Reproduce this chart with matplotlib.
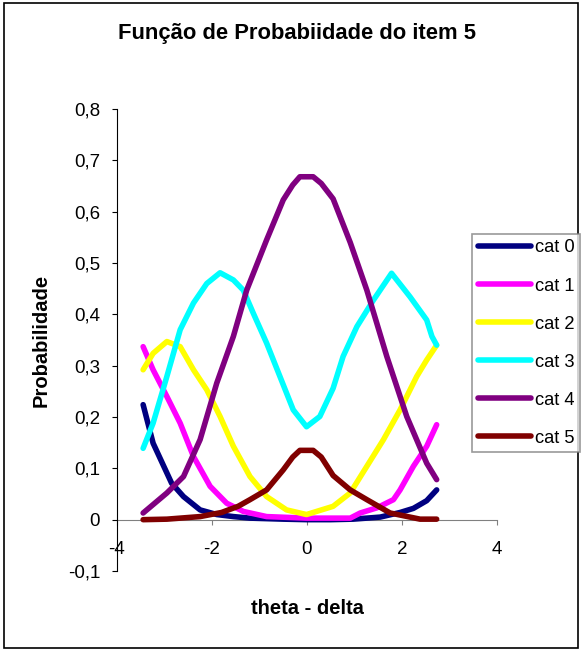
import matplotlib
matplotlib.use('Agg')
import matplotlib.pyplot as plt
from matplotlib.patches import Rectangle

plt.rcParams['font.family'] = ['Liberation Sans', 'DejaVu Sans']

# curvas (theta - delta, probabilidade)
x_cat0 = [-3.45, -3.24, -2.95, -2.85, -2.60, -2.25, -1.90, -1.55, -1.20, -0.5, 0.0, 0.5, 0.97, 1.54, 1.96, 2.24, 2.52, 2.73]
y_cat0 = [0.224, 0.149, 0.091, 0.071, 0.045, 0.019, 0.010, 0.006, 0.003, 0.001, 0.0, 0.0, 0.001, 0.005, 0.014, 0.022, 0.037, 0.058]

x_cat1 = [-3.45, -3.24, -2.95, -2.67, -2.39, -2.04, -1.69, -1.34, -0.85, -0.01, 0.91, 1.12, 1.47, 1.82, 1.96, 2.24, 2.52, 2.73]
y_cat1 = [0.337, 0.292, 0.240, 0.188, 0.123, 0.065, 0.032, 0.016, 0.006, 0.003, 0.003, 0.013, 0.023, 0.039, 0.058, 0.104, 0.143, 0.185]

x_cat2 = [-3.45, -3.24, -2.95, -2.67, -2.39, -2.11, -1.83, -1.55, -1.20, -0.85, -0.43, -0.01, 0.55, 0.91, 1.26, 1.61, 1.96, 2.31, 2.52, 2.73]
y_cat2 = [0.292, 0.324, 0.347, 0.337, 0.292, 0.253, 0.201, 0.143, 0.084, 0.045, 0.019, 0.010, 0.026, 0.052, 0.104, 0.156, 0.214, 0.279, 0.311, 0.340]

x_cat3 = [-3.45, -3.24, -2.95, -2.67, -2.39, -2.11, -1.83, -1.55, -1.34, -1.13, -0.85, -0.57, -0.29, -0.01, 0.27, 0.55, 0.76, 1.05, 1.40, 1.78, 2.17, 2.52, 2.63, 2.73]
y_cat3 = [0.139, 0.188, 0.279, 0.370, 0.422, 0.460, 0.481, 0.467, 0.447, 0.402, 0.344, 0.279, 0.214, 0.181, 0.201, 0.256, 0.318, 0.376, 0.428, 0.480, 0.434, 0.389, 0.357, 0.340]

x_cat4 = [-3.45, -2.95, -2.60, -2.25, -1.90, -1.55, -1.27, -0.85, -0.50, -0.30, -0.15, 0.13, 0.30, 0.55, 0.91, 1.26, 1.68, 2.10, 2.52, 2.73]
y_cat4 = [0.013, 0.052, 0.084, 0.156, 0.266, 0.357, 0.447, 0.545, 0.623, 0.652, 0.668, 0.668, 0.655, 0.625, 0.540, 0.447, 0.318, 0.201, 0.110, 0.078]

x_cat5 = [-3.45, -2.95, -2.25, -1.80, -1.45, -1.20, -0.85, -0.50, -0.30, -0.15, 0.13, 0.30, 0.55, 0.91, 1.26, 1.75, 2.38, 2.73]
y_cat5 = [0.0, 0.001, 0.006, 0.014, 0.026, 0.039, 0.058, 0.097, 0.122, 0.135, 0.135, 0.122, 0.086, 0.058, 0.039, 0.013, 0.001, 0.001]

series = [
    ('cat 0', x_cat0, y_cat0, '#000080'),
    ('cat 1', x_cat1, y_cat1, '#FF00FF'),
    ('cat 2', x_cat2, y_cat2, '#FFFF00'),
    ('cat 3', x_cat3, y_cat3, '#00FFFF'),
    ('cat 4', x_cat4, y_cat4, '#800080'),
    ('cat 5', x_cat5, y_cat5, '#800000'),
]

xticks = [-4, -2, 0, 2, 4]
yticks = [-0.1, 0.0, 0.1, 0.2, 0.3, 0.4, 0.5, 0.6, 0.7, 0.8]
ytick_labels = ['-0,1', '0', '0,1', '0,2', '0,3', '0,4', '0,5', '0,6', '0,7', '0,8']

W, H = 582, 651
fig = plt.figure(figsize=(W / 100, H / 100), dpi=100)
ax = fig.add_axes([117 / W, 1 - 571 / H, 380 / W, 462 / H])

for name, xs, ys, c in series:
    ax.plot(xs, ys, color=c, lw=4.0, label=name, solid_capstyle='round',
            solid_joinstyle='round', zorder=3)

ax.set_xlim(-4, 4)
ax.set_ylim(-0.1, 0.8)
ax.spines['top'].set_visible(False)
ax.spines['right'].set_visible(False)
ax.spines['bottom'].set_position(('data', 0))
ax.spines['bottom'].set_color('#808080')
ax.spines['bottom'].set_zorder(1)
ax.spines['left'].set_color('black')

ax.set_xticks(xticks)
ax.set_xticklabels([str(t) for t in xticks])
ax.set_yticks(yticks)
ax.set_yticklabels(ytick_labels)
ax.tick_params(axis='x', direction='out', length=3.6, color='#808080',
               labelsize=13.5, pad=12)
ax.tick_params(axis='y', direction='out', length=3.6, color='black',
               labelsize=13.5, pad=8.5)

fig.text(0.51, 1 - 34 / H, 'Função de Probabiidade do item 5',
         ha='center', va='center', fontsize=15.8, fontweight='bold')
fig.text(41 / W, 1 - 340 / H, 'Probabilidade', rotation=90,
         ha='center', va='center', fontsize=14.5, fontweight='bold')
fig.text(307 / W, 1 - 608 / H, 'theta - delta',
         ha='center', va='center', fontsize=14.5, fontweight='bold')

fig.patches.append(Rectangle((4 / W, 3 / H), 574 / W, 645 / H,
                             transform=fig.transFigure, fill=False,
                             edgecolor='black', lw=1.2))

leg = fig.legend(loc='upper left', bbox_to_anchor=(472 / W, 1 - 234 / H),
                 frameon=True, fancybox=False, fontsize=13.2,
                 handlelength=2.9, handletextpad=0.25, labelspacing=1.15,
                 borderpad=0.3, borderaxespad=0)
leg.get_frame().set_edgecolor('#808080')
leg.get_frame().set_linewidth(1.2)

fig.savefig('out.png', dpi=100, facecolor='white')
